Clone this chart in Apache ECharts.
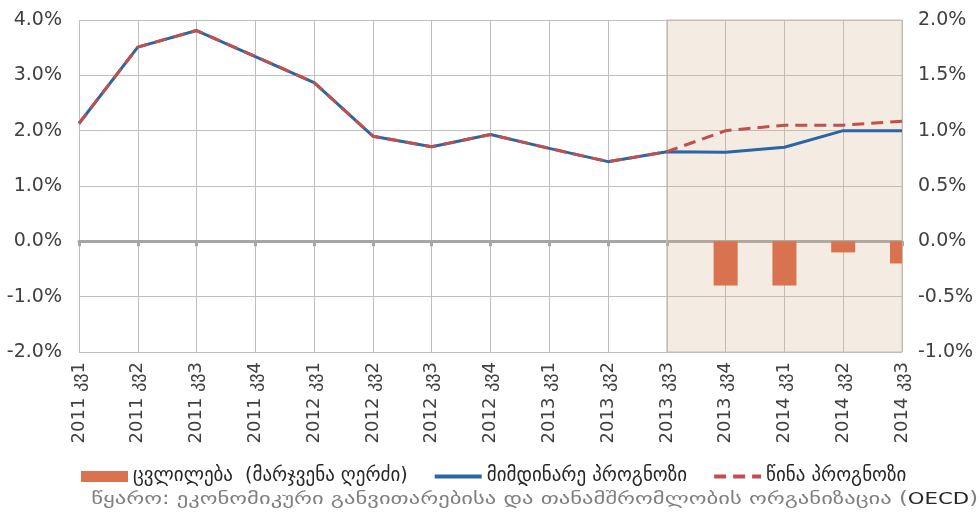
<!DOCTYPE html>
<html><head><meta charset="utf-8">
<script src="https://cdn.jsdelivr.net/npm/echarts@6/dist/echarts.min.js"></script>
<style>html,body{margin:0;padding:0;background:#fff}#c{width:980px;height:519px}</style>
</head><body><div id="c"></div>
<script>
const categories = ['2011 კვ1','2011 კვ2','2011 კვ3','2011 კვ4','2012 კვ1','2012 კვ2','2012 კვ3','2012 კვ4','2013 კვ1','2013 კვ2','2013 კვ3','2013 კვ4','2014 კვ1','2014 კვ2','2014 კვ3'];
const changeValues = [null,null,null,null,null,null,null,null,null,null,null,-0.4,-0.4,-0.1,-0.2];
const currentForecast = [2.13,3.51,3.81,3.34,2.87,1.90,1.71,1.93,1.68,1.44,1.62,1.61,1.70,2.0,2.0];
const previousForecast = [2.13,3.51,3.81,3.34,2.87,1.90,1.71,1.93,1.68,1.44,1.62,2.0,2.10,2.10,2.17];
const leftTicks = {min:-2,max:4,interval:1};
const rightTicks = {min:-1,max:2,interval:0.5};
const names = ['ცვლილება  (მარჯვენა ღერძი)','მიმდინარე პროგნოზი','წინა პროგნოზი'];

const FONT = 'DejaVu Sans';
const barData = changeValues.map((v,i)=>[i,v]).filter(d=>d[1]!==null);
const chart = echarts.init(document.getElementById('c'));
chart.setOption({
  animation:false,
  grid:{left:79,right:78,top:20,bottom:167},
  legend:{left:76,top:462,itemWidth:47,itemHeight:11,itemGap:25,
    textStyle:{fontFamily:FONT,fontSize:19,color:'#262626'},
    data:[{name:names[0],icon:'rect'},
          {name:names[1],itemStyle:{opacity:0},lineStyle:{width:4}},
          {name:names[2],itemStyle:{opacity:0},lineStyle:{width:4}}]},
  graphic:[{type:'text',x:978,y:500,scaleX:1.33,style:{
    text:'{g|წყარო: ეკონომიკური განვითარებისა და თანამშრომლობის ორგანიზაცია (}{b|OECD}{g|)}',
    align:'right',verticalAlign:'middle',
    rich:{g:{fill:'#7f7f7f',fontFamily:FONT,fontSize:17},b:{fill:'#262626',fontFamily:FONT,fontSize:16}}}}],
  xAxis:[
    {type:'category',data:categories,boundaryGap:false,position:'bottom',
      axisLine:{show:false},axisTick:{show:false},
      splitLine:{show:true,interval:0,lineStyle:{color:'#bfbfbf',width:1}},
      axisLabel:{interval:0,rotate:90,margin:10,fontFamily:FONT,fontSize:18,color:'#404040'}},
    {type:'category',data:categories,boundaryGap:false,position:'bottom',
      axisLine:{show:true,onZero:true,lineStyle:{color:'#a6a6a6',width:3}},
      axisTick:{show:true,interval:0,length:5,lineStyle:{color:'#a6a6a6',width:3}},
      axisLabel:{show:false},splitLine:{show:false}}
  ],
  yAxis:[
    {type:'value',min:leftTicks.min,max:leftTicks.max,interval:leftTicks.interval,
      axisLine:{show:false},axisTick:{show:false},
      splitLine:{lineStyle:{color:'#bfbfbf',width:1}},
      axisLabel:{margin:17,fontFamily:FONT,fontSize:19,color:'#404040',formatter:v=>v.toFixed(1)+'%'}},
    {type:'value',min:rightTicks.min,max:rightTicks.max,interval:rightTicks.interval,position:'right',
      axisLine:{show:false},axisTick:{show:false},splitLine:{show:false},
      axisLabel:{margin:16,fontFamily:FONT,fontSize:19,color:'#404040',formatter:v=>v.toFixed(1)+'%'}}
  ],
  series:[
    {name:names[0],type:'custom',xAxisIndex:0,yAxisIndex:1,data:barData,encode:{x:0,y:1},
      itemStyle:{color:'#d8724f'},z:3,
      renderItem:function(params,api){
        const base = api.coord([api.value(0),0]);
        const top = api.coord([api.value(0),api.value(1)]);
        const w = 24;
        const cs = params.coordSys;
        const r = echarts.graphic.clipRectByRect(
          {x:base[0]-w/2,y:Math.min(base[1],top[1]),width:w,height:Math.abs(top[1]-base[1])},
          {x:cs.x,y:cs.y,width:cs.width,height:cs.height});
        return r ? {type:'rect',shape:r,style:api.style()} : null;
      }},
    {name:names[1],type:'line',xAxisIndex:0,yAxisIndex:0,data:currentForecast,symbol:'none',
      lineStyle:{color:'#2a65a8',width:3},itemStyle:{color:'#2a65a8'},z:4,
      markArea:{silent:true,itemStyle:{color:'rgba(211,179,139,0.25)',borderColor:'#c9bcae',borderWidth:1},
        data:[[{xAxis:categories[10],yAxis:leftTicks.min},{xAxis:categories[14],yAxis:leftTicks.max}]]}},
    {name:names[2],type:'line',xAxisIndex:0,yAxisIndex:0,data:previousForecast,symbol:'none',
      lineStyle:{color:'#c0504d',width:3,type:[12,7]},itemStyle:{color:'#c0504d'},z:5}
  ]
});
</script></body></html>
